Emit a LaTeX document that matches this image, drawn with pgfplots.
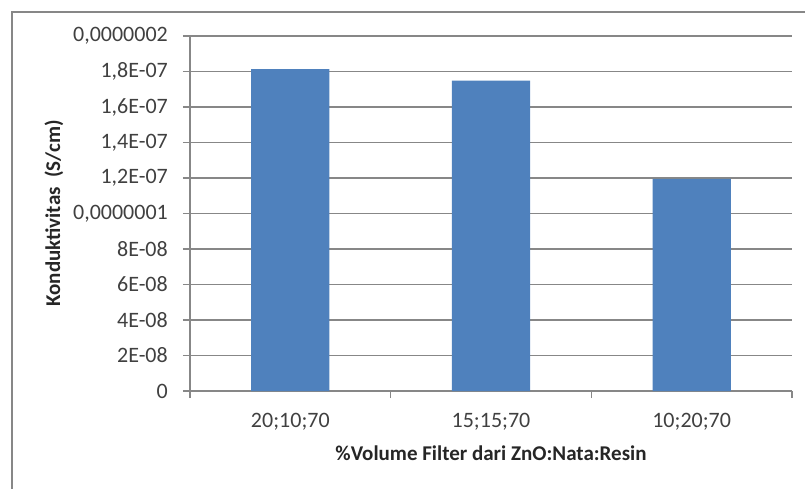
\documentclass[border=0pt]{standalone}
\usepackage{pgfplots}
\pgfplotsset{compat=1.18}
\usepackage{fontspec}
\setmainfont{Carlito}
\definecolor{barblue}{HTML}{4F81BD}
\definecolor{gridgray}{HTML}{878787}
\definecolor{ticktext}{HTML}{404040}
\definecolor{titletext}{HTML}{262626}
\begin{document}
\begin{tikzpicture}[x=1pt,y=1pt]
\useasboundingbox (-190,-97) rectangle (615,391);
\draw[gridgray, line width=1.3pt] (-178,-110) -- (-178,379) -- (630,379);
\begin{axis}[
  at={(0,0)}, anchor=south west,
  scale only axis, width=602pt, height=355pt,
  xmin=0.5, xmax=3.5, ymin=0, ymax=2e-7,
  axis x line*=bottom, axis y line*=left,
  axis line style={gridgray, line width=1.3pt},
  tick align=outside,
  major tick length=7pt,
  tick style={gridgray, line width=1.3pt},
  ytick={0,2e-8,4e-8,6e-8,8e-8,1e-7,1.2e-7,1.4e-7,1.6e-7,1.8e-7,2e-7},
  yticklabels={0,2E-08,4E-08,6E-08,8E-08,{0,0000001},{1,2E-07},{1,4E-07},{1,6E-07},{1,8E-07},{0,0000002}},
  scaled y ticks=false,
  ymajorgrids,
  major grid style={gridgray, line width=1.3pt},
  xtick={0.5,1.5,2.5,3.5}, xticklabels={},
  extra x ticks={1,2,3},
  extra x tick labels={20;10;70,15;15;70,10;20;70},
  extra x tick style={major tick length=0pt, xticklabel style={anchor=base, inner sep=0pt, yshift=-36pt}},
  yticklabel style={font=\fontsize{22}{26}\selectfont, color=ticktext, anchor=east, inner sep=0pt, xshift=-15pt},
  xticklabel style={font=\fontsize{22}{26}\selectfont, color=ticktext},
  xlabel={\%Volume Filter dari ZnO:Nata:Resin},
  ylabel={Konduktivitas\ \ (S/cm)},
  xlabel style={font=\bfseries\fontsize{21}{25}\selectfont, color=titletext, at={(axis description cs:0.5,-0.197)}, anchor=base},
  ylabel style={font=\bfseries\fontsize{21}{25}\selectfont, color=titletext, at={(axis description cs:-0.226,0.5)}, anchor=center},
  clip=false,
]
\addplot[ybar, bar width=0.39, fill=barblue, draw=none] coordinates {(1,1.814e-7) (2,1.748e-7) (3,1.195e-7)};
\end{axis}
\end{tikzpicture}
\end{document}
